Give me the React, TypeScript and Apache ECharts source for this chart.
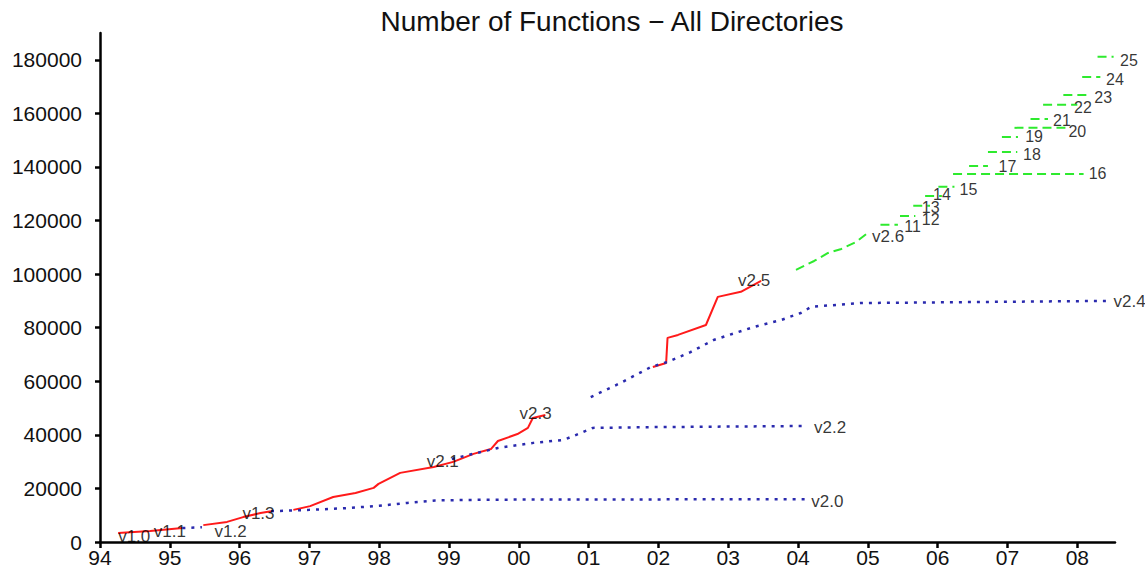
import React, { useEffect, useRef } from "react";
import * as echarts from "echarts";

// ---- ticks ----
const xTickYears = [1994, 1995, 1996, 1997, 1998, 1999, 2000, 2001, 2002, 2003, 2004, 2005, 2006, 2007, 2008];
const yTicks = [0, 20000, 40000, 60000, 80000, 100000, 120000, 140000, 160000, 180000];

// ---- development series (red, solid) ----
const redV10to11 = [[1994.26, 3400], [1994.72, 4100], [1995.18, 5200]];
const redV12to13 = [[1995.48, 6300], [1995.82, 7500], [1996.05, 9300], [1996.3, 10800], [1996.45, 11500]];
const redV21 = [
  [1996.77, 12000], [1997.01, 13400], [1997.34, 16800], [1997.66, 18300], [1997.92, 20200],
  [1997.99, 21700], [1998.3, 25800], [1998.78, 28000], [1999.06, 29900],
];
const redV23 = [
  [1999.06, 29900], [1999.35, 32900], [1999.6, 34700], [1999.7, 37700], [1999.98, 40300],
  [2000.13, 42600], [2000.2, 46300], [2000.38, 47400],
];
const redV25 = [
  [2001.92, 65300], [2002.11, 66800], [2002.13, 76200], [2002.28, 77300], [2002.68, 81000],
  [2002.85, 91500], [2003.18, 93400], [2003.47, 97500],
];

// ---- stable series (blue, dotted) ----
const blueV11 = [[1995.18, 5200], [1995.46, 5500]];
const blueV20 = [
  [1996.45, 11500], [1997.0, 12000], [1997.5, 12600], [1998.0, 13500], [1998.4, 14600],
  [1998.8, 15500], [1999.5, 15800], [2004.12, 16000],
];
const blueV22 = [
  [1999.04, 31000], [1999.7, 35100], [2000.21, 37000], [2000.64, 38100], [2000.89, 40700],
  [2001.06, 42600], [2002.0, 42900], [2004.12, 43300],
];
const blueV24 = [
  [2001.03, 54100], [2001.46, 59400], [2001.89, 65300], [2002.13, 67200], [2002.46, 70900],
  [2002.79, 75400], [2003.37, 80300], [2003.76, 82900], [2004.04, 85500], [2004.19, 87800],
  [2004.9, 89200], [2008.42, 90000],
];

// ---- 2.6 series (green, dashed) ----
const greenV26 = [
  [2003.97, 101600], [2004.23, 104900], [2004.43, 107900], [2004.62, 109400],
  [2004.83, 112000], [2005.0, 115400],
];
const stableNames = ["11", "12", "13", "14", "15", "16", "17", "18", "19", "20", "21", "22", "23", "24", "25"];
const stableStart = [2005.18, 2005.46, 2005.65, 2005.82, 2006.01, 2006.22, 2006.45, 2006.72, 2006.92, 2007.1, 2007.33, 2007.51, 2007.8, 2008.07, 2008.29];
const stableEnd = [2005.43, 2005.68, 2005.89, 2006.06, 2006.24, 2008.09, 2006.72, 2007.14, 2007.15, 2007.83, 2007.58, 2008.0, 2008.16, 2008.33, 2008.52];
const stableValue = [118400, 121700, 125500, 129200, 132600, 137400, 140400, 145600, 151200, 154600, 157900, 163200, 166900, 173600, 181100];
const stableLabelX = [2005.64, 2005.9, 2005.9, 2006.06, 2006.44, 2008.29, 2007.0, 2007.35, 2007.38, 2008.0, 2007.78, 2008.08, 2008.37, 2008.54, 2008.74];
const stableLabelY = [117700, 120300, 125000, 129600, 131600, 137400, 140000, 144700, 151400, 153400, 157300, 162100, 165800, 172500, 179600];

// ---- version labels ----
const versionNames = ["v1.0", "v1.1", "v1.2", "v1.3", "v2.0", "v2.1", "v2.2", "v2.3", "v2.4", "v2.5", "v2.6"];
const versionLabelX = [1994.49, 1995.0, 1995.87, 1996.27, 2004.42, 1998.91, 2004.46, 2000.24, 2008.75, 2003.37, 2005.29];
const versionLabelY = [2200, 4100, 4100, 10800, 15300, 29900, 42600, 47800, 89600, 97500, 113900];

const FONT = "'Liberation Sans', Arial, Helvetica, sans-serif";
const RED = "#ff1a1a";
const BLUE = "#2a2aae";
const GREEN = "#2eea2e";

function lineSeries(data: number[][], color: string, type: any, width: number) {
  return {
    type: "line",
    data,
    symbol: "none",
    silent: true,
    lineStyle: { color, width, type },
    z: 3,
  };
}

export default function App() {
  const ref = useRef<HTMLDivElement>(null);
  useEffect(() => {
    if (!ref.current) return;
    const chart = echarts.init(ref.current, null, { renderer: "svg" });

    const series: any[] = [];
    [redV10to11, redV12to13, redV21, redV23, redV25].forEach((d) => series.push(lineSeries(d, RED, "solid", 2)));
    [blueV11, blueV20, blueV22, blueV24].forEach((d) => series.push(lineSeries(d, BLUE, [3, 6], 2.5)));
    series.push(lineSeries(greenV26, GREEN, [9, 5], 2));
    stableNames.forEach((_, i) => {
      series.push(
        lineSeries(
          [
            [stableStart[i], stableValue[i]],
            [stableEnd[i], stableValue[i]],
          ],
          GREEN,
          [9, 5],
          2
        )
      );
    });

    const labelData: any[] = [];
    versionNames.forEach((n, i) =>
      labelData.push({ name: n, value: [versionLabelX[i], versionLabelY[i]], label: { fontSize: 17, lineHeight: 16 } })
    );
    stableNames.forEach((n, i) => labelData.push({ name: n, value: [stableLabelX[i], stableLabelY[i]] }));
    series.push({
      type: "scatter",
      data: labelData,
      symbolSize: 1,
      itemStyle: { color: "rgba(0,0,0,0)" },
      clip: false,
      silent: true,
      z: 5,
      label: {
        show: true,
        position: "inside",
        formatter: "{b}",
        color: "#000",
        fontSize: 16,
        lineHeight: 11,
        fontFamily: FONT,
      },
    });

    chart.setOption({
      animation: false,
      backgroundColor: "#ffffff",
      title: {
        text: "Number of Functions \u2212 All Directories",
        left: 607,
        textAlign: "center",
        top: 2,
        textStyle: { fontSize: 28, fontWeight: "normal", color: "#111", fontFamily: FONT },
      },
      grid: { left: 100, right: 30, top: 33, bottom: 37, containLabel: false },
      xAxis: {
        type: "value",
        min: 1994,
        max: 2008.54,
        interval: 1,
        axisLine: { show: true, onZero: false, lineStyle: { color: "#000", width: 2.5 } },
        axisTick: { show: true, inside: false, length: 6, lineStyle: { color: "#000", width: 2.5 }, customValues: xTickYears },
        axisLabel: {
          show: true,
          margin: 5,
          fontSize: 21,
          color: "#111",
          fontFamily: FONT,
          customValues: xTickYears,
          formatter: (v: number) => String(Math.round(v) % 100).padStart(2, "0"),
        },
        splitLine: { show: false },
      },
      yAxis: {
        type: "value",
        min: 0,
        max: 190000,
        interval: 20000,
        axisLine: { show: true, onZero: false, lineStyle: { color: "#000", width: 2.5 } },
        axisTick: { show: true, inside: false, length: 5, lineStyle: { color: "#000", width: 2.5 }, customValues: yTicks },
        axisLabel: {
          show: true,
          margin: 18,
          fontSize: 21,
          color: "#111",
          fontFamily: FONT,
          customValues: yTicks,
          formatter: (v: number) => String(Math.round(v)),
        },
        splitLine: { show: false },
      },
      series,
    });
    return () => chart.dispose();
  }, []);
  return <div ref={ref} style={{ position: "fixed", left: 0, top: 0, width: 1145, height: 579 }} />;
}
